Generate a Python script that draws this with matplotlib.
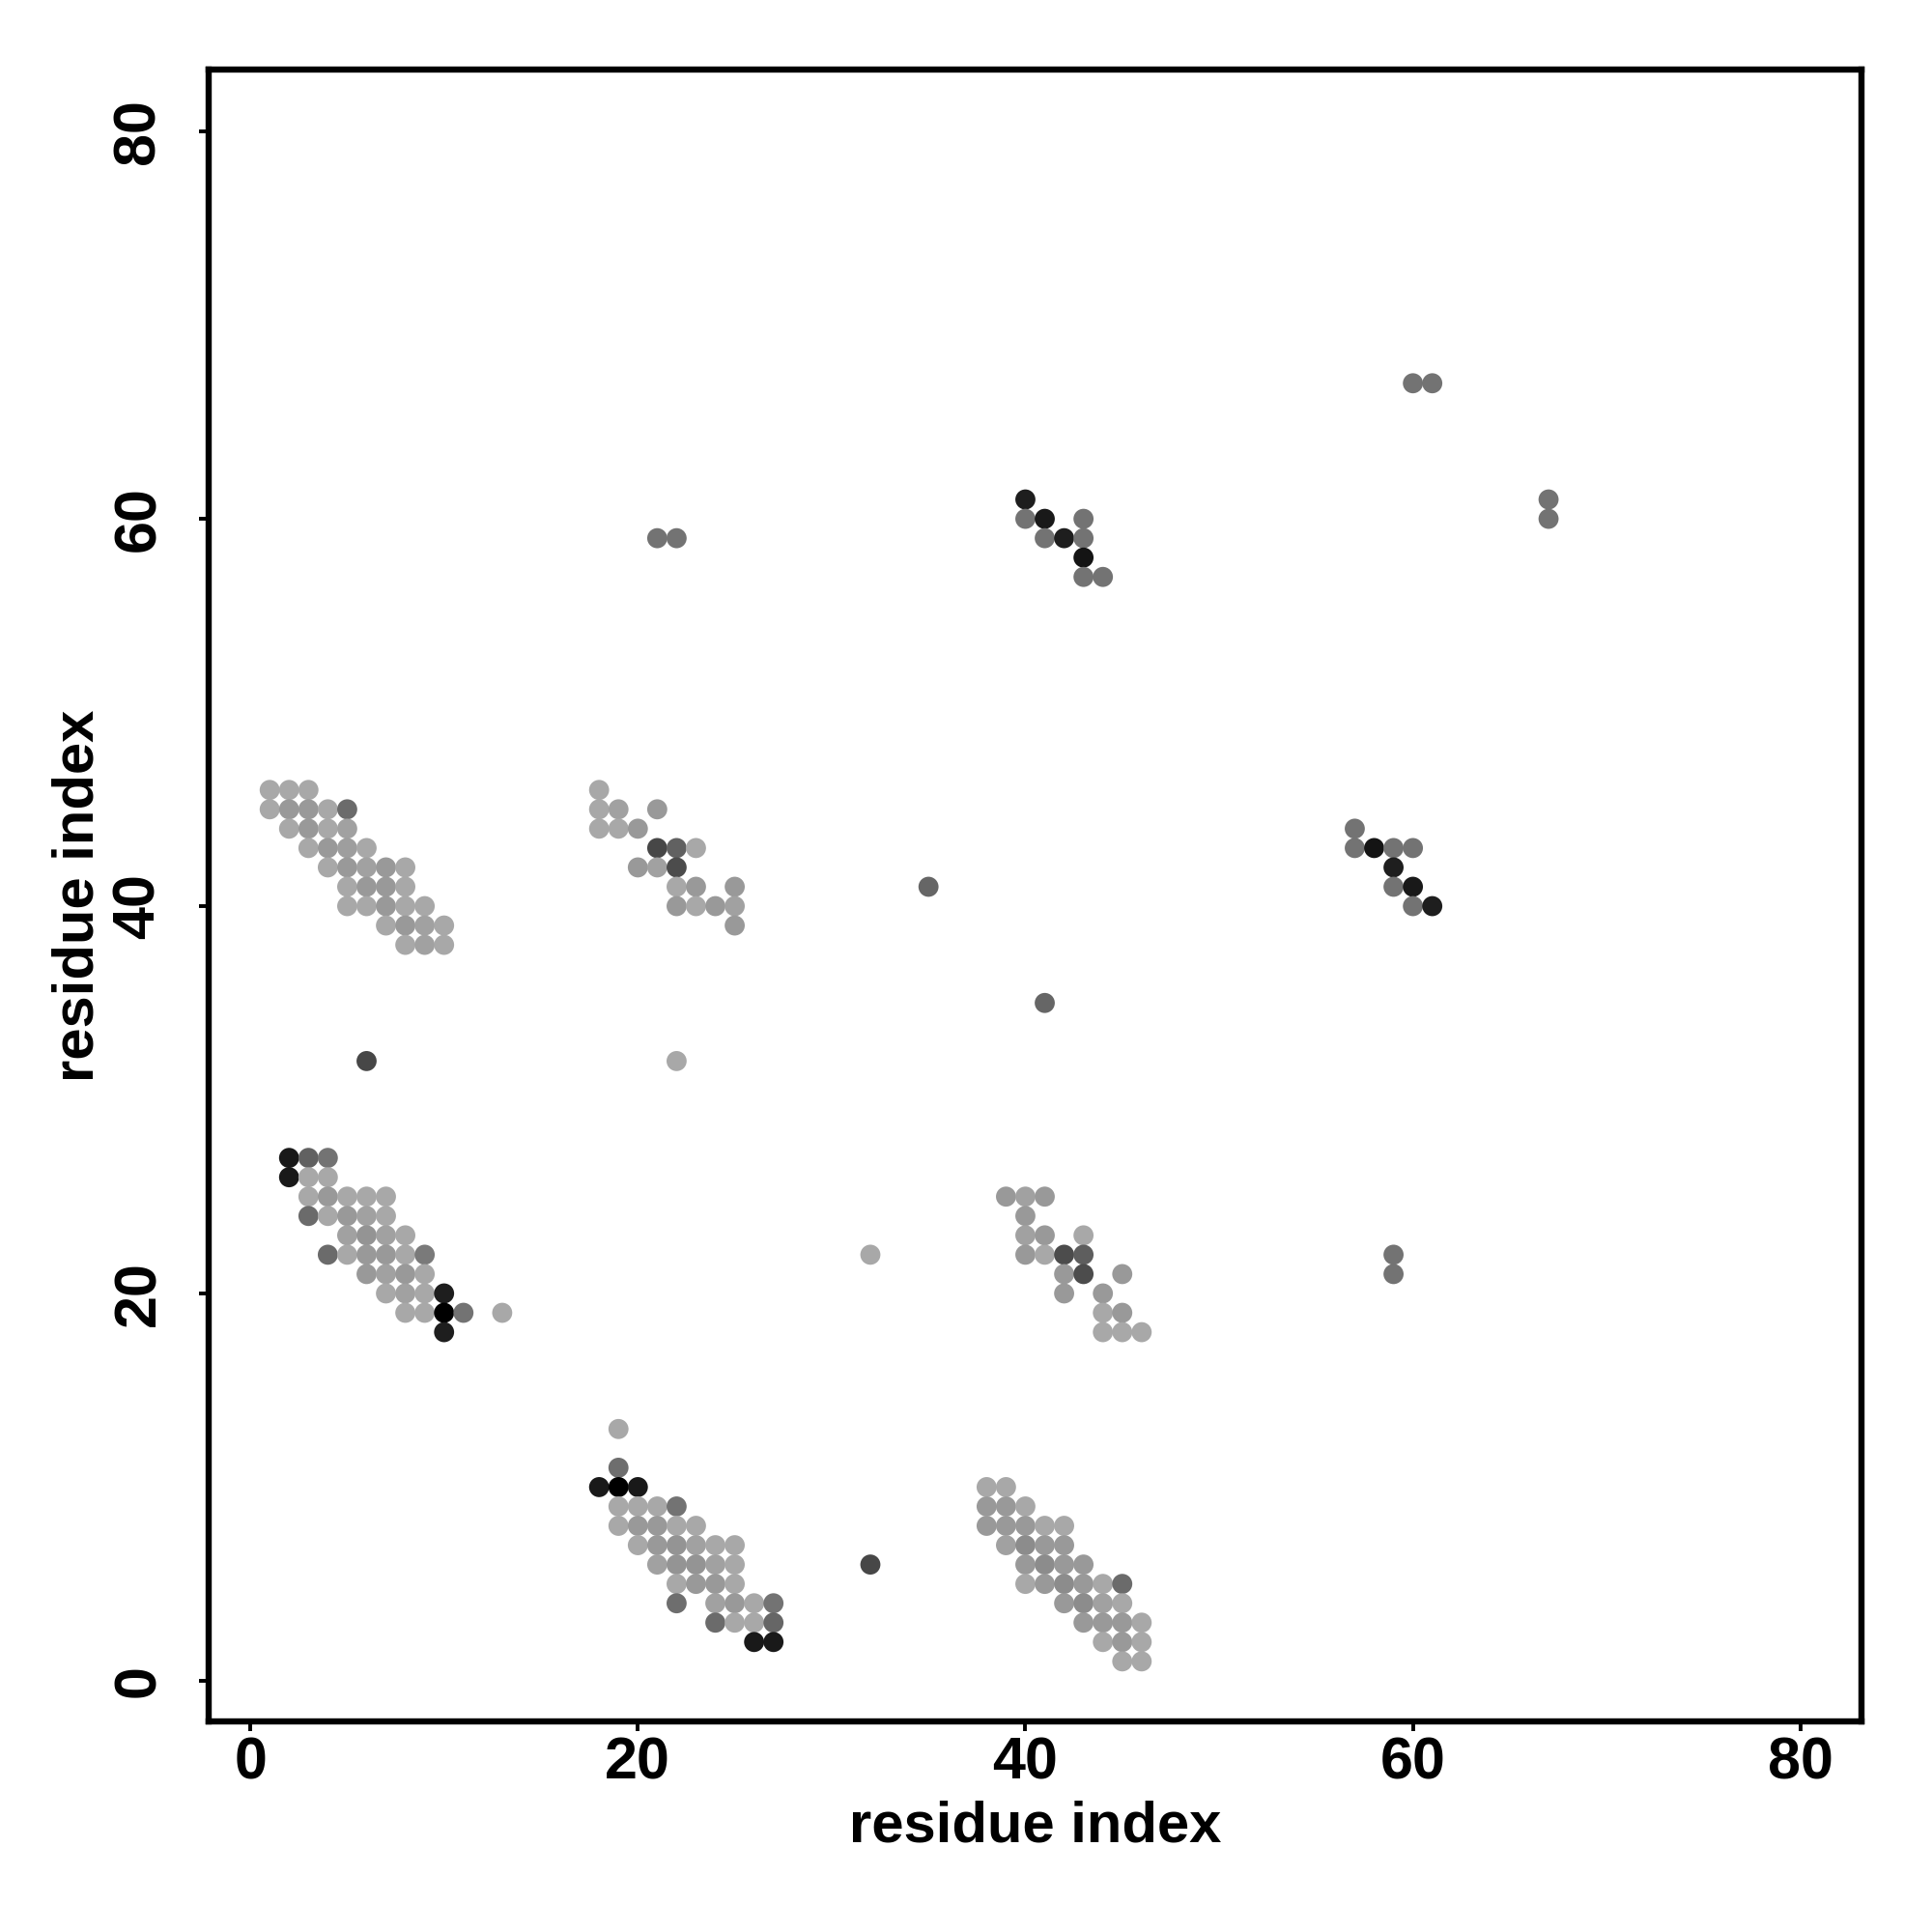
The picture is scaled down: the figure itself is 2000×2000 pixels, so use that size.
import matplotlib
matplotlib.use("Agg")
import matplotlib.pyplot as plt
import numpy as np

plt.rcParams["font.family"] = ["Liberation Sans", "DejaVu Sans"]
plt.rcParams["font.weight"] = "bold"

# contacts as (residue i, residue j, shade) ; shade 0 = black, 1 = white
cluster_a = [
    (1, 46, .66), (2, 46, .66), (3, 46, .66),
    (1, 45, .66), (2, 45, .60), (3, 45, .60), (4, 45, .66), (5, 45, .42),
    (2, 44, .66), (3, 44, .60), (4, 44, .66), (5, 44, .63),
    (3, 43, .66), (4, 43, .60), (5, 43, .62), (6, 43, .66),
    (4, 42, .66), (5, 42, .60), (6, 42, .63), (7, 42, .60), (8, 42, .66),
    (5, 41, .66), (6, 41, .60), (7, 41, .60), (8, 41, .66),
    (5, 40, .66), (6, 40, .66), (7, 40, .60), (8, 40, .66), (9, 40, .66),
    (7, 39, .66), (8, 39, .60), (9, 39, .63), (10, 39, .66),
    (8, 38, .66), (9, 38, .63), (10, 38, .66),
]

cluster_b = [
    (2, 27, .10), (3, 27, .38), (4, 27, .45),
    (2, 26, .10), (3, 26, .66), (4, 26, .66),
    (3, 25, .66), (4, 25, .60), (5, 25, .66), (6, 25, .66), (7, 25, .66),
    (3, 24, .42), (4, 24, .66), (5, 24, .60), (6, 24, .63), (7, 24, .66),
    (5, 23, .63), (6, 23, .58), (7, 23, .63), (8, 23, .66),
    (4, 22, .42), (5, 22, .66), (6, 22, .60), (7, 22, .60), (8, 22, .66), (9, 22, .48),
    (6, 21, .60), (7, 21, .63), (8, 21, .60), (9, 21, .66),
    (7, 20, .66), (8, 20, .63), (9, 20, .66), (10, 20, .12),
    (8, 19, .66), (9, 19, .66), (10, 19, .00), (11, 19, .45), (13, 19, .66),
    (10, 18, .12),
]

cluster_c = [
    (18, 46, .66),
    (18, 45, .66), (19, 45, .63), (21, 45, .60),
    (18, 44, .66), (19, 44, .66), (20, 44, .60),
    (21, 43, .28), (22, 43, .38), (23, 43, .66),
    (20, 42, .60), (21, 42, .63), (22, 42, .30),
    (22, 41, .66), (23, 41, .60), (25, 41, .60),
    (22, 40, .60), (23, 40, .66), (24, 40, .60), (25, 40, .63),
    (25, 39, .60),
]

cluster_d = [
    (19, 13, .66),
    (19, 11, .43),
    (18, 10, .10), (19, 10, .00), (20, 10, .10),
    (19, 9, .66), (20, 9, .66), (21, 9, .66), (22, 9, .45),
    (19, 8, .66), (20, 8, .60), (21, 8, .60), (22, 8, .66), (23, 8, .66),
    (20, 7, .66), (21, 7, .60), (22, 7, .58), (23, 7, .63), (24, 7, .66), (25, 7, .66),
    (21, 6, .63), (22, 6, .58), (23, 6, .58), (24, 6, .63), (25, 6, .66),
    (22, 5, .66), (23, 5, .60), (24, 5, .60), (25, 5, .66),
    (22, 4, .43), (24, 4, .63), (25, 4, .60), (26, 4, .66), (27, 4, .45),
    (24, 3, .42), (25, 3, .66), (26, 3, .66), (27, 3, .40),
    (26, 2, .10), (27, 2, .10),
]

cluster_e = [
    (38, 10, .66), (39, 10, .66),
    (38, 9, .60), (39, 9, .60), (40, 9, .66),
    (38, 8, .60), (39, 8, .60), (40, 8, .60), (41, 8, .66), (42, 8, .66),
    (39, 7, .63), (40, 7, .55), (41, 7, .60), (42, 7, .60),
    (40, 6, .60), (41, 6, .55), (42, 6, .60), (43, 6, .60),
    (40, 5, .66), (41, 5, .60), (42, 5, .55), (43, 5, .60), (44, 5, .66), (45, 5, .42),
    (42, 4, .60), (43, 4, .55), (44, 4, .63), (45, 4, .66),
    (43, 3, .60), (44, 3, .60), (45, 3, .60), (46, 3, .66),
    (44, 2, .66), (45, 2, .60), (46, 2, .66),
    (45, 1, .66), (46, 1, .66),
]

cluster_f = [
    (39, 25, .60), (40, 25, .63), (41, 25, .60),
    (40, 24, .60),
    (40, 23, .63), (41, 23, .60), (43, 23, .66),
    (40, 22, .60), (41, 22, .66), (42, 22, .30), (43, 22, .37),
    (42, 21, .60), (43, 21, .30), (45, 21, .60),
    (42, 20, .60), (44, 20, .60),
    (44, 19, .66), (45, 19, .60),
    (44, 18, .66), (45, 18, .66), (46, 18, .66),
]

cluster_g = [
    (40, 61, .12),
    (40, 60, .45), (41, 60, .10), (43, 60, .45),
    (41, 59, .45), (42, 59, .12), (43, 59, .45),
    (43, 58, .08),
    (43, 57, .45), (44, 57, .45),
]

cluster_h = [
    (57, 44, .45),
    (57, 43, .45), (58, 43, .08), (59, 43, .45), (60, 43, .45),
    (59, 42, .12),
    (59, 41, .45), (60, 41, .10),
    (60, 40, .45), (61, 40, .12),
]

singles = [
    (21, 59, .45), (22, 59, .45),
    (6, 32, .28), (22, 32, .66),
    (35, 41, .40), (41, 35, .40),
    (32, 22, .66), (32, 6, .28),
    (59, 22, .45), (59, 21, .45),
    (60, 67, .45), (61, 67, .45),
    (67, 61, .45), (67, 60, .45),
]

ticks = [0, 20, 40, 60, 80]

contacts = np.array(cluster_a + cluster_b + cluster_c + cluster_d + cluster_e
                    + cluster_f + cluster_g + cluster_h + singles)

fig = plt.figure(figsize=(10, 10), dpi=200)
ax = fig.add_axes([0.108, 0.109, 0.8555, 0.855])

ax.scatter(contacts[:, 0], contacts[:, 1], c=contacts[:, 2], cmap="gray",
           vmin=0, vmax=1, s=56, linewidths=0, zorder=3)

ax.set_xlim(-2.15, 83.15)
ax.set_ylim(-2.1, 83.2)
ax.set_xticks(ticks)
ax.set_yticks(ticks)
for sp in ax.spines.values():
    sp.set_linewidth(2.3)

ax.tick_params(axis="both", direction="out", length=3.5, width=1.4,
               labelsize=22)
ax.tick_params(axis="x", pad=2)
ax.tick_params(axis="y", pad=12)
for lab in ax.get_yticklabels():
    lab.set_rotation(90)
    lab.set_verticalalignment("center")
for lab in ax.get_xticklabels() + ax.get_yticklabels():
    lab.set_fontweight("bold")

ax.set_xlabel("residue index", fontsize=21.5, fontweight="bold")
ax.set_ylabel("residue index", fontsize=21.5, fontweight="bold")
ax.xaxis.set_label_coords(0.5, -0.064)
ax.yaxis.set_label_coords(-0.079, 0.5)
ax.xaxis.label.set_verticalalignment("center")
ax.yaxis.label.set_verticalalignment("center")

plt.savefig("out.png", dpi=200)
